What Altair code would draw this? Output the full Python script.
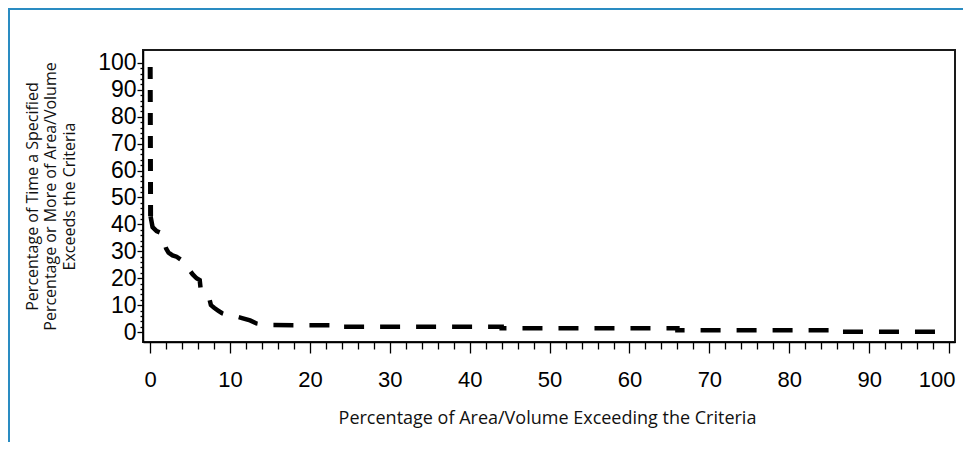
import altair as alt
import pandas as pd

# Curve (percent of area/volume vs percent of time)
pct_area = [0, 0.05, 0.3, 0.8, 1.2, 1.5, 1.8, 2.0, 2.3, 2.8, 3.3, 3.8, 4.3, 4.8, 5.3,
            5.8, 6.2, 6.3, 6.6, 7.0, 7.4, 7.6, 8.0, 8.5, 9.0, 9.5, 10.5, 11.5, 12.5,
            13.3, 14.5, 23, 23, 44, 44, 66, 66, 85, 85, 100]
pct_time = [98.5, 43, 39, 37.5, 37, 35.5, 33, 31, 29.5, 28.5, 28, 27, 25.5, 23.5, 21.5,
            20, 19.3, 16.5, 15, 14, 12.5, 10, 9, 8, 7, 6.5, 6, 5.2, 4.3,
            3.2, 2.6, 2.5, 2.0, 2.0, 1.4, 1.4, 0.7, 0.7, 0.1, 0.1]

x_ticks = [i * 2 for i in range(51)]
y_ticks = [i * 2 for i in range(51)]
y_title = ["Percentage of Time a Specified", "Percentage or More of Area/Volume",
           "Exceeds the Criteria"]
x_title = "Percentage of Area/Volume Exceeding the Criteria"

df = pd.DataFrame({"area": pct_area, "time": pct_time, "order": range(len(pct_area))})

W, H = 812, 292
PAD_L, PAD_T = 135, 42

x_axis = alt.Axis(
    values=x_ticks,
    labelExpr="datum.value % 10 === 0 ? datum.label : ''",
    tickSize={"condition": {"test": "datum.value % 10 === 0", "value": 11}, "value": 7},
    tickColor="black", tickWidth=1.3,
    domainColor="black", domainWidth=1.5,
    labelFont="Liberation Sans", labelFontSize=22, labelColor="black",
    labelPadding=16, labelFlush=False, labelOverlap=False,
    labelAlign={"condition": {"test": "datum.value === 100", "value": "right"}, "value": "center"},
    labelOffset={"condition": {"test": "datum.value === 100", "value": 6}, "value": 0},
    grid=False,
    title=x_title, titleFont="Open Sans", titleFontSize=18, titleFontWeight="normal",
    titleColor="#111", titleX=404, titleY=81, titleBaseline="alphabetic",
    titleAlign="center",
)
y_axis = alt.Axis(
    values=y_ticks,
    labelExpr="datum.value % 10 === 0 ? datum.label : ''",
    tickSize={"condition": {"test": "datum.value % 10 === 0", "value": 6}, "value": 3},
    tickColor="black", tickWidth=1.3,
    domainColor="black", domainWidth=1.5,
    labelFont="Liberation Sans", labelFontSize=23, labelColor="black",
    labelPadding=1, labelOverlap=False,
    grid=False,
    title=y_title, titleFont="Open Sans", titleFontSize=16, titleFontWeight="normal",
    titleColor="#111", titleX=-111, titleY=146, titleAngle=270, titleBaseline="middle",
    titleAlign="center", titleLineHeight=18.5,
)

x_enc = alt.X("area:Q", scale=alt.Scale(domain=[-0.9, 100.75], nice=False, zero=False),
              axis=x_axis)
y_enc = alt.Y("time:Q", scale=alt.Scale(domain=[-3.7, 104.8], nice=False, zero=False),
              axis=y_axis)

base = alt.Chart(df)
vertical = base.transform_filter("datum.order <= 1").mark_line(
    color="black", strokeWidth=5, strokeDash=[12, 11], strokeCap="butt",
).encode(x=x_enc, y=y_enc, order="order:Q")
rest = base.transform_filter("datum.order >= 1").mark_line(
    color="black", strokeWidth=4.5, strokeDash=[20, 16], strokeCap="butt",
).encode(x=x_enc, y=y_enc, order="order:Q")

blue = "#2a8cc2"
border_top = base.mark_rule(color=blue, strokeWidth=2).encode(
    x=alt.value(-PAD_L), x2=alt.value(W + 30), y=alt.value(-PAD_T + 1)
)
border_left = base.mark_rule(color=blue, strokeWidth=2).encode(
    x=alt.value(-PAD_L + 1), y=alt.value(-PAD_T), y2=alt.value(H + 120)
)

chart = alt.layer(border_top, border_left, vertical, rest).properties(
    width=W, height=H,
    autosize=alt.AutoSizeParams(type="none"),
    padding={"left": PAD_L, "top": PAD_T, "right": 8, "bottom": 100},
    background="white",
).configure_view(stroke="#1a1a1a", strokeWidth=2)

chart.save("out.html", embed_options={"renderer": "svg", "actions": False})
